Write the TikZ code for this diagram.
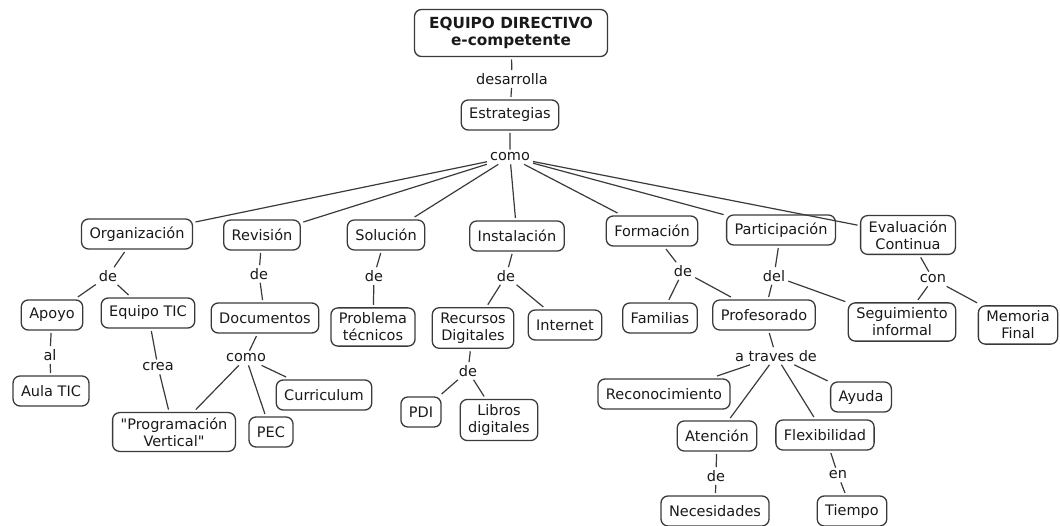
\documentclass[tikz,border=0pt]{standalone}
\usepackage{fontspec}
\setmainfont{DejaVu Sans}
\usepackage{tikz}
\definecolor{linegray}{HTML}{3A3A3A}
\tikzset{
  concept/.style={draw=linegray, line width=1.3pt, rounded corners=7pt, align=center,
    inner xsep=8pt, inner ysep=5pt, minimum height=30pt, outer sep=3pt},
  link/.style={inner sep=3pt},
  conn/.style={draw=linegray, line width=1.2pt}
}
\begin{document}
\begin{tikzpicture}[x=1pt, y=-1pt, font=\fontsize{14.5}{17}\selectfont, text=black!90]
    \useasboundingbox (0,0) rectangle (1060,526);
    % Top of the map
    \node[concept, font=\fontsize{15.3}{17}\selectfont\bfseries, minimum width=193pt, minimum height=47pt] (equipo) at (511,33) {EQUIPO DIRECTIVO\\e-competente};
    \node[link] (desarrolla) at (512,79) {desarrolla};
    \node[concept] (estrategias) at (510,115) {Estrategias};
    \node[link] (como) at (510,157) {como};
    % Strategies
    \node[concept] (org) at (137,234) {Organización};
    \node[concept] (rev) at (262,235) {Revisión};
    \node[concept] (sol) at (386,235) {Solución};
    \node[concept] (ins) at (517,236) {Instalación};
    \node[concept] (form) at (652,231) {Formación};
    \node[concept] (part) at (781,230) {Participación};
    \node[concept] (eval) at (908,235) {Evaluación\\Continua};
    % Linking words under the strategies
    \node[link] (deorg) at (108,276) {de};
    \node[link] (derev) at (259,274) {de};
    \node[link] (desol) at (374,276) {de};
    \node[link] (deins) at (506,276) {de};
    \node[link] (deform) at (683,271) {de};
    \node[link] (del) at (774,276) {del};
    \node[link] (con) at (933,279) {con};
    % Second level
    \node[concept] (apoyo) at (52,315) {Apoyo};
    \node[concept] (equipotic) at (148,313) {Equipo TIC};
    \node[concept] (docs) at (265,318) {Documentos};
    \node[concept] (problema) at (373,327) {Problema\\técnicos};
    \node[concept] (recursos) at (473,328) {Recursos\\Digitales};
    \node[concept] (internet) at (565,325) {Internet};
    \node[concept] (familias) at (660,318) {Familias};
    \node[concept] (profesorado) at (764,315) {Profesorado};
    \node[concept] (seguimiento) at (902,322) {Seguimiento\\informal};
    \node[concept] (memoria) at (1018,325) {Memoria\\Final};
    % Third level
    \node[link] (al) at (50,355) {al};
    \node[link] (crea) at (158,367) {crea};
    \node[link] (comodoc) at (246,358) {como};
    \node[link] (derec) at (468,371) {de};
    \node[link] (traves) at (776,356) {a traves de};
    \node[concept] (aulatic) at (51,391) {Aula TIC};
    \node[concept] (programacion) at (174,432) {\textquotedbl Programación\\Vertical\textquotedbl};
    \node[concept] (pec) at (271,432) {PEC};
    \node[concept] (curriculum) at (324,395) {Curriculum};
    \node[concept] (pdi) at (421,412) {PDI};
    \node[concept] (libros) at (499,420) {Libros\\digitales};
    \node[concept] (reconocimiento) at (664,394) {Reconocimiento};
    \node[concept] (ayuda) at (861,397) {Ayuda};
    \node[concept] (atencion) at (717,436) {Atención};
    \node[concept] (flexibilidad) at (825,435) {Flexibilidad};
    % Bottom
    \node[link] (deat) at (716,476) {de};
    \node[link] (en) at (838,475) {en};
    \node[concept] (necesidades) at (715,511) {Necesidades};
    \node[concept] (tiempo) at (852,511) {Tiempo};
    % Connect top
    \draw[conn] (equipo) -- (desarrolla) (desarrolla) -- (estrategias) (estrategias) -- (como);
    \draw[conn] (como) -- (org) (como) -- (rev) (como) -- (sol) (como) -- (ins);
    \draw[conn] (como) -- (form) (como) -- (part) (como) -- (eval);
    % Organizacion branch
    \draw[conn] (org) -- (deorg) (deorg) -- (apoyo) (deorg) -- (equipotic);
    \draw[conn] (apoyo) -- (al) (al) -- (aulatic);
    \draw[conn] (equipotic) -- (crea) (crea) -- (programacion);
    % Revision branch
    \draw[conn] (rev) -- (derev) (derev) -- (docs) (docs) -- (comodoc);
    \draw[conn] (comodoc) -- (programacion) (comodoc) -- (pec) (comodoc) -- (curriculum);
    % Solucion and Instalacion
    \draw[conn] (sol) -- (desol) (desol) -- (problema);
    \draw[conn] (ins) -- (deins) (deins) -- (recursos) (deins) -- (internet);
    \draw[conn] (recursos) -- (derec) (derec) -- (pdi) (derec) -- (libros);
    % Formacion and Participacion
    \draw[conn] (form) -- (deform) (deform) -- (familias) (deform) -- (profesorado);
    \draw[conn] (part) -- (del) (del) -- (profesorado) (del) -- (seguimiento);
    \draw[conn] (profesorado) -- (traves);
    \draw[conn] (traves) -- (reconocimiento) (traves) -- (atencion) (traves) -- (flexibilidad) (traves) -- (ayuda);
    \draw[conn] (atencion) -- (deat) (deat) -- (necesidades);
    \draw[conn] (flexibilidad) -- (en) (en) -- (tiempo);
    % Evaluacion
    \draw[conn] (eval) -- (con) (con) -- (seguimiento) (con) -- (memoria);
\end{tikzpicture}
\end{document}
